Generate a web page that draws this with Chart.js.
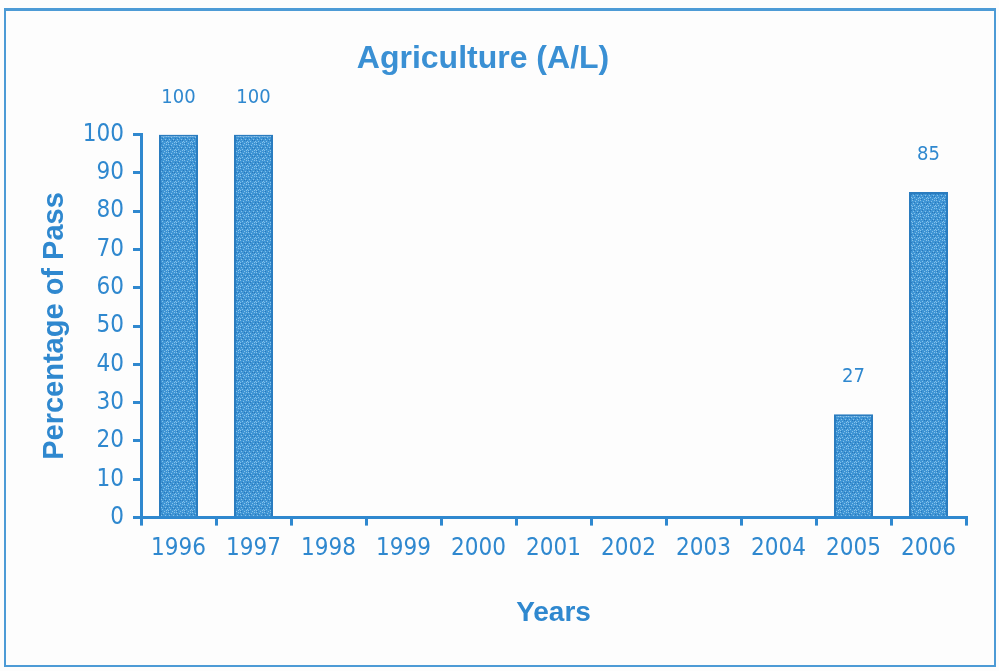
<!DOCTYPE html>
<html>
<head>
<meta charset="utf-8">
<script src="https://cdn.jsdelivr.net/npm/chart.js@4"></script>
<style>
  html,body{margin:0;padding:0;background:#fdfdfd;}
  #wrap{position:relative;width:999px;height:671px;}
  #frame{position:absolute;left:4px;top:8px;width:988px;height:654px;border:2px solid #4d9bd6;border-top-width:3px;pointer-events:none;}
</style>
</head>
<body>
<div id="wrap">
  <canvas id="chart" width="999" height="671"></canvas>
  <div id="frame"></div>
</div>
<script>
// ============ DATA ============
const years = ['1996','1997','1998','1999','2000','2001','2002','2003','2004','2005','2006'];
const passRate = [100, 100, null, null, null, null, null, null, null, 27, 85];
const yTicks = [0,10,20,30,40,50,60,70,80,90,100];

const BLUE = '#2f88cf';
const NARROW = '"Liberation Sans Narrow", "DejaVu Sans Condensed", "Liberation Sans", sans-serif';
const BOLD = '"Liberation Sans", Arial, sans-serif';

// small mosaic tile for the bar fill
function makeTexture() {
  const c = document.createElement('canvas');
  c.width = 8; c.height = 8;
  const g = c.getContext('2d');
  g.fillStyle = '#3f95d5'; g.fillRect(0,0,8,8);
  g.fillStyle = '#86c1ea';
  [[0,0],[3,1],[6,0],[1,3],[5,3],[2,5],[7,5],[0,6],[4,7],[6,6]].forEach(p=>g.fillRect(p[0],p[1],1,1));
  g.fillStyle = '#2a78ba';
  [[2,2],[7,2],[4,4],[1,7],[6,4]].forEach(p=>g.fillRect(p[0],p[1],1,1));
  return c;
}

const valueLabels = {
  id:'valueLabels',
  afterDatasetsDraw(chart) {
    const ctx = chart.ctx;
    const meta = chart.getDatasetMeta(0);
    ctx.save();
    ctx.fillStyle = BLUE;
    ctx.font = '20px ' + NARROW;
    ctx.textAlign = 'center';
    ctx.textBaseline = 'middle';
    meta.data.forEach((bar,i)=>{
      if(passRate[i]==null) return;
      ctx.fillText(String(passRate[i]), bar.x, bar.y - 37);
    });
    ctx.restore();
  }
};

const ctx = document.getElementById('chart').getContext('2d');
const texture = ctx.createPattern(makeTexture(), 'repeat');

new Chart(ctx, {
  type:'bar',
  data:{ labels:years, datasets:[{ data:passRate, backgroundColor:texture, borderColor:'#2a7cbf', borderWidth:2, categoryPercentage:1, barPercentage:0.52 }] },
  options:{
    responsive:false, animation:false,
    layout:{ padding:{ left:0, right:33, top:0, bottom:0 } },
    plugins:{
      legend:{display:false}, tooltip:{enabled:false},
      title:{ display:true, text:'Agriculture (A/L)', color:'#3a90d4', font:{family:BOLD, size:32, weight:'bold'}, padding:{top:40, bottom:56} }
    },
    scales:{
      x:{
        grid:{ offset:true, drawOnChartArea:false, drawTicks:true, tickLength:8, color:BLUE, lineWidth:3 },
        border:{ color:BLUE, width:3 },
        ticks:{ color:BLUE, font:{family:NARROW, size:24}, padding:9, maxRotation:0 },
        title:{ display:true, text:'Years', color:BLUE, font:{family:BOLD, size:28, weight:'bold'}, padding:{top:24, bottom:41} }
      },
      y:{
        min:0, max:100,
        afterBuildTicks(scale){ scale.ticks = yTicks.map(v=>({value:v})); },
        afterFit(scale){ scale.width = 141; },
        grid:{ drawOnChartArea:false, drawTicks:true, tickLength:8, color:BLUE, lineWidth:3 },
        border:{ color:BLUE, width:3 },
        ticks:{ color:BLUE, font:{family:NARROW, size:24}, padding:9 },
        title:{ display:true, text:'Percentage of Pass', color:BLUE, font:{family:BOLD, size:29, weight:'bold'}, padding:{top:38, bottom:10} }
      }
    }
  },
  plugins:[valueLabels]
});
</script>
</body>
</html>
